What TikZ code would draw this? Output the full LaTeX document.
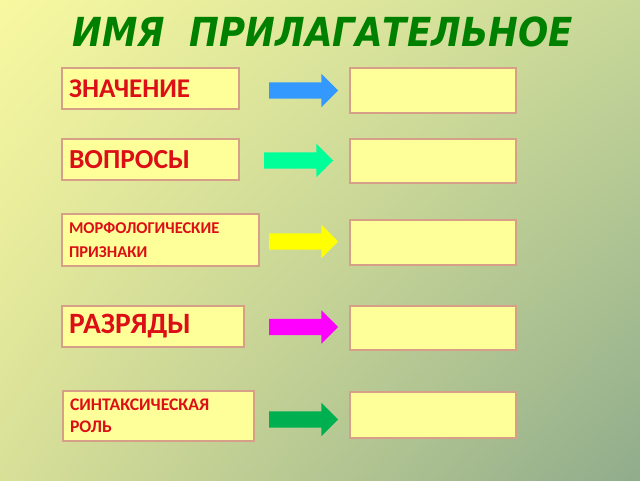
\documentclass[tikz,border=0pt]{standalone}
\usepackage{fontspec}
\setmainfont{Carlito}
\newfontfamily\titlefont{DejaVu Sans}
\usetikzlibrary{shapes.arrows, shadings}
\definecolor{bgtl}{RGB}{248,248,160}
\definecolor{bgtr}{RGB}{200,216,152}
\definecolor{bgbl}{RGB}{216,224,152}
\definecolor{bgbr}{RGB}{144,172,140}
\definecolor{titlegreen}{RGB}{0,128,0}
\definecolor{labelred}{RGB}{220,14,22}
\definecolor{boxfill}{RGB}{255,255,153}
\definecolor{boxline}{RGB}{214,160,136}
\definecolor{arrowblue}{RGB}{51,153,255}
\definecolor{arrowmint}{RGB}{0,255,153}
\definecolor{arrowyellow}{RGB}{255,255,0}
\definecolor{arrowpink}{RGB}{255,0,255}
\definecolor{arrowgreen}{RGB}{0,176,80}

\begin{document}
\begin{tikzpicture}[x=1pt,y=-1pt]
\tikzstyle{every node}+=[inner sep=0pt]
\tikzstyle{term}=[draw=boxline, line width=1.8pt, fill=boxfill, inner xsep=7pt,
  align=left, text=labelred]
\tikzstyle{blank}=[draw=boxline, line width=1.8pt, fill=boxfill,
  minimum width=166pt]
\tikzstyle{pointer}=[single arrow, single arrow head extend=8.5pt, inner sep=8pt,
  minimum height=69pt]
\shade [upper left=bgtl, upper right=bgtr, lower left=bgbl, lower right=bgbr]
  (0,0) rectangle (640,480);
\node [anchor=base, text=titlegreen, font=\titlefont\bfseries\itshape\fontsize{40}{48}\selectfont]
  (title) at (322.5,46) {\scalebox{0.89}[1]{ИМЯ\ \ ПРИЛАГАТЕЛЬНОЕ}};
\node [term, text width=163pt, minimum height=41pt, font=\bfseries\fontsize{27}{30}\selectfont]
  (znach) at (150.5,88.5) {ЗНАЧЕНИЕ};
\node [term, text width=163pt, minimum height=41pt, font=\bfseries\fontsize{27.5}{30}\selectfont]
  (vopr) at (150.5,159.5) {ВОПРОСЫ};
\node [term, text width=183pt, minimum height=52pt, font=\bfseries\fontsize{16.5}{24}\selectfont]
  (morf) at (160.5,240) {МОРФОЛОГИЧЕСКИЕ\\ПРИЗНАКИ};
\node [term, text width=168pt, minimum height=41pt, font=\bfseries\fontsize{29.5}{30}\selectfont]
  (razr) at (153,326.5) {РАЗРЯДЫ};
\node [term, text width=177pt, minimum height=50pt, font=\bfseries\fontsize{17.7}{22}\selectfont]
  (sint) at (158.5,416) {СИНТАКСИЧЕСКАЯ\\РОЛЬ};
\node [blank, minimum height=45pt] (znachR) at (433,90.5) {};
\node [blank, minimum height=44pt] (voprR) at (433,161) {};
\node [blank, minimum height=45pt] (morfR) at (433,242.5) {};
\node [blank, minimum height=44pt] (razrR) at (433,328) {};
\node [blank, minimum height=46pt] (sintR) at (433,415) {};
\node [pointer, fill=arrowblue] (znachA) at (299.5,90.5) {};
\node [pointer, fill=arrowmint] (voprA) at (294.5,160.5) {};
\node [pointer, fill=arrowyellow] (morfA) at (299.5,241.5) {};
\node [pointer, fill=arrowpink] (razrA) at (299.5,327) {};
\node [pointer, fill=arrowgreen] (sintA) at (299.5,419.5) {};
\end{tikzpicture}
\end{document}
